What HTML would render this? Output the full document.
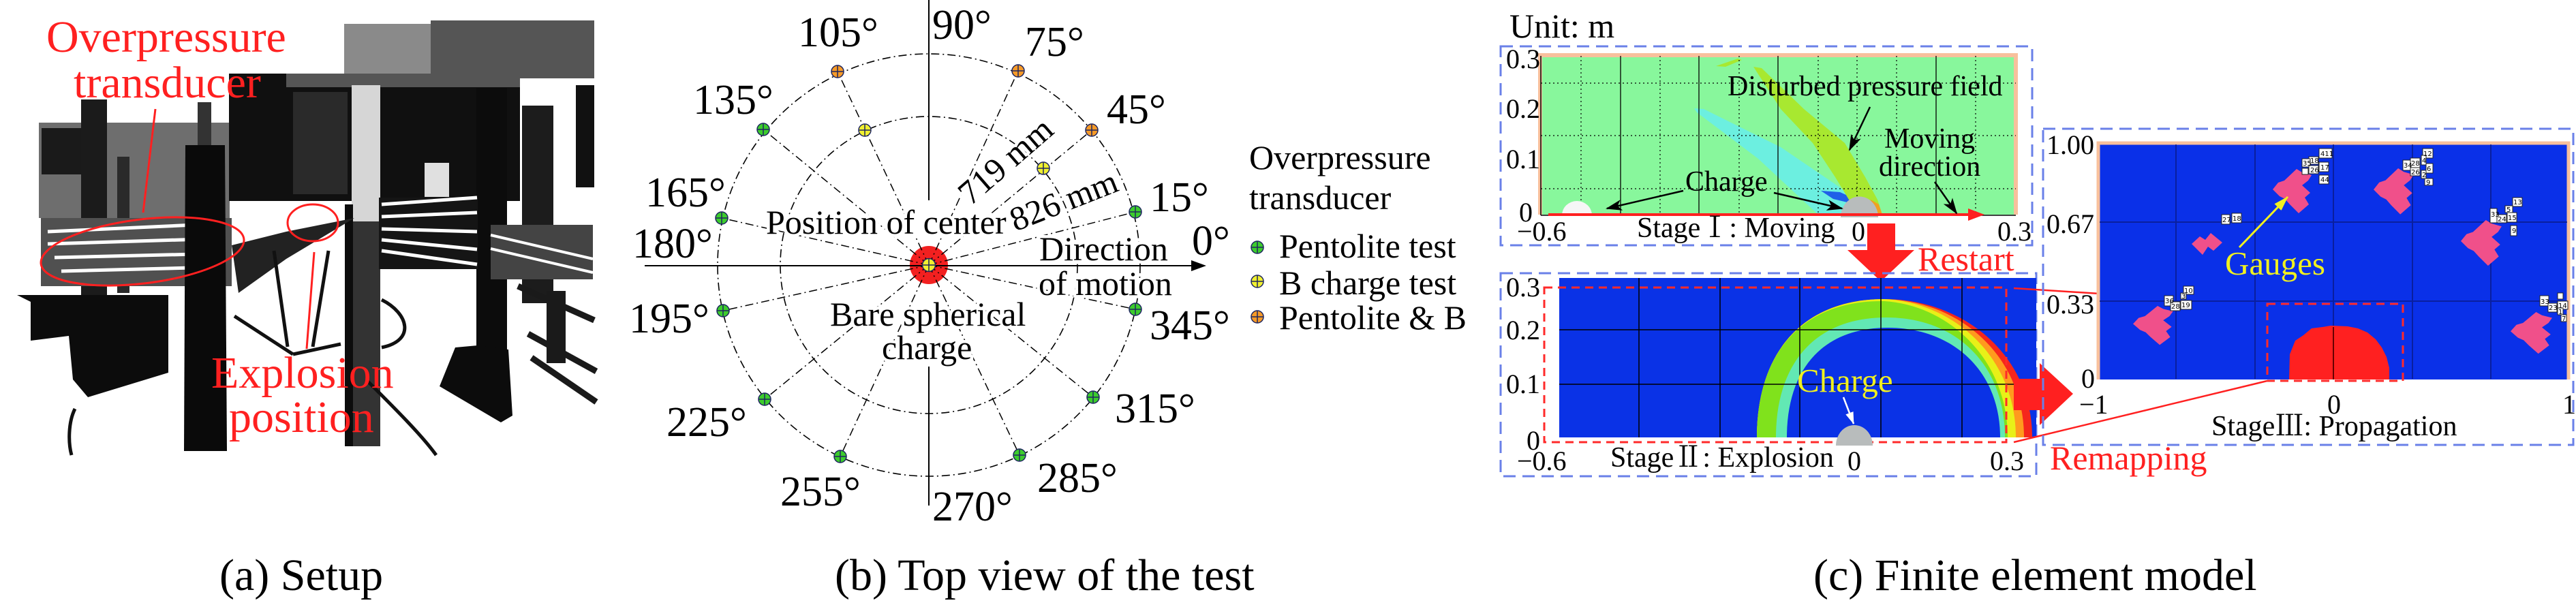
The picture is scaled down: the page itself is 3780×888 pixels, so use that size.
<!DOCTYPE html>
<html><head><meta charset="utf-8"><style>html,body{margin:0;padding:0;background:#fff;width:3780px;height:888px;overflow:hidden}svg{display:block}svg text{font-family:"Liberation Serif","Noto Serif CJK SC",serif}svg text.rn, svg tspan.rn{font-family:"Noto Serif CJK SC",serif}svg text.tiny{font-family:"DejaVu Sans",sans-serif}</style></head>
<body>
<svg width="3780" height="888" viewBox="0 0 3780 888" xmlns="http://www.w3.org/2000/svg" style="font-family:'Liberation Serif',serif">
<defs>
<marker id="ahb" markerUnits="userSpaceOnUse" markerWidth="24" markerHeight="16" refX="22" refY="8" orient="auto"><path d="M0,0 L24,8 L0,16 L6,8 Z" fill="#000"/></marker>
<marker id="ahy" markerUnits="userSpaceOnUse" markerWidth="22" markerHeight="14" refX="21" refY="7" orient="auto"><path d="M0,0 L22,7 L0,14 Z" fill="#f0f020"/></marker>
<marker id="ahw" markerUnits="userSpaceOnUse" markerWidth="18" markerHeight="12" refX="17" refY="6" orient="auto"><path d="M0,0 L18,6 L0,12 Z" fill="#fff"/></marker>
<g id="mk"><line x1="-9" y1="0" x2="9" y2="0" stroke="#1f2660" stroke-width="1.5"/><line x1="0" y1="-9" x2="0" y2="9" stroke="#1f2660" stroke-width="1.5"/></g>
<path id="blob" d="M0,30 L8,20 L17,17 L35,0 L43,5 L57,9 L52,17 L43,24 L55,35 L47,42 L53,52 L38,65 L25,52 L18,44 L10,40 Z"/>
</defs>

<!-- ================= PANEL A: photo approximation ================= -->
<g>
<rect x="505" y="35" width="127" height="75" fill="#8a8a8a"/>
<rect x="632" y="30" width="240" height="85" fill="#555"/>
<rect x="57" y="180" width="280" height="140" fill="#6e6e6e"/>
<rect x="61" y="188" width="63" height="68" fill="#1a1a1a"/>
<rect x="336" y="108" width="427" height="187" fill="#101010"/>
<rect x="420" y="108" width="343" height="20" fill="#555"/>
<rect x="430" y="135" width="80" height="150" fill="#2a2a2a"/>
<rect x="516" y="125" width="42" height="200" fill="#d6d6d6"/>
<rect x="516" y="325" width="42" height="330" fill="#333"/>
<rect x="506" y="300" width="12" height="355" fill="#0c0c0c"/>
<rect x="623" y="239" width="36" height="50" fill="#e0e0e0"/>
<rect x="699" y="129" width="45" height="400" fill="#0c0c0c"/>
<polygon points="645,567 668,510 701,507 746,513 752,610 735,620" fill="#0c0c0c"/>
<rect x="766" y="155" width="46" height="290" fill="#1c1c1c"/>
<rect x="845" y="125" width="27" height="150" fill="#111"/>
<rect x="556" y="290" width="145" height="105" fill="#151515"/>
<g stroke="#fff" stroke-width="5">
<line x1="560" y1="300" x2="700" y2="290"/><line x1="560" y1="318" x2="700" y2="312"/><line x1="560" y1="336" x2="700" y2="340"/><line x1="560" y1="352" x2="700" y2="366"/><line x1="560" y1="368" x2="700" y2="388"/>
</g>
<rect x="720" y="330" width="150" height="80" fill="#444"/>
<g stroke="#fff" stroke-width="4"><line x1="720" y1="345" x2="870" y2="380"/><line x1="720" y1="365" x2="870" y2="400"/></g>
<rect x="119" y="146" width="38" height="295" fill="#1b1b1b"/>
<rect x="172" y="230" width="18" height="200" fill="#2a2a2a"/>
<rect x="290" y="150" width="20" height="150" fill="#333"/>
<rect x="60" y="320" width="280" height="100" fill="#505050"/>
<g stroke="#fff" stroke-width="5">
<line x1="70" y1="340" x2="330" y2="328"/><line x1="70" y1="358" x2="330" y2="350"/><line x1="80" y1="378" x2="330" y2="372"/><line x1="90" y1="398" x2="320" y2="392"/>
</g>
<polygon points="272,213 330,213 333,662 270,662" fill="#0a0a0a"/>
<polygon points="25,433 247,433 247,547 129,583 107,557 101,493 45,500 45,443" fill="#0c0c0c"/>
<polygon points="340,360 420,340 520,320 420,380 350,430" fill="#222"/>
<g stroke="#111" stroke-width="5" fill="none">
<line x1="402" y1="368" x2="422" y2="509"/><line x1="482" y1="368" x2="459" y2="509"/><line x1="344" y1="464" x2="430" y2="520"/><line x1="430" y1="520" x2="500" y2="505"/>
<path d="M560,440 C600,460 610,500 560,510"/><path d="M540,560 C580,600 620,640 640,668"/><path d="M110,600 C100,620 100,650 105,668"/>
</g>
<g stroke="#1a1a1a" stroke-width="9">
<line x1="775" y1="490" x2="875" y2="545"/><line x1="780" y1="525" x2="875" y2="590"/><line x1="760" y1="420" x2="872" y2="470"/>
</g>
<rect x="802" y="427" width="28" height="106" fill="#1a1a1a"/>
</g>
<!-- red annotations -->
<g fill="none" stroke="#ff2020" stroke-width="3">
<ellipse cx="209" cy="369" rx="150" ry="47" transform="rotate(-7 209 369)"/>
<ellipse cx="459" cy="327" rx="37" ry="27"/>
<line x1="228" y1="160" x2="210" y2="312"/>
<line x1="450" y1="512" x2="461" y2="370"/>
</g>
<g font-size="66" fill="#ff2020">
<text x="68" y="76">Overpressure</text>
<text x="108" y="143">transducer</text>
<text x="310" y="569">Explosion</text>
<text x="336" y="634">position</text>
</g>
<text x="322" y="866" font-size="66">(a) Setup</text>

<!-- ================= PANEL B: polar plot ================= -->
<g fill="none" stroke="#000" stroke-width="1.6" stroke-dasharray="12 5 2 5">
<circle cx="1363" cy="389" r="310"/>
<circle cx="1363" cy="389" r="218"/>
</g>
<circle cx="1363" cy="389" r="28" fill="#f22020"/>
<g stroke="#000" stroke-width="1.5" stroke-dasharray="12 5 2 5">
<line x1="1363" y1="389" x2="1666" y2="311"/>
<line x1="1363" y1="389" x2="1602" y2="191"/>
<line x1="1363" y1="389" x2="1494" y2="104"/>
<line x1="1363" y1="389" x2="1229" y2="105"/>
<line x1="1363" y1="389" x2="1120" y2="190"/>
<line x1="1363" y1="389" x2="1059" y2="320"/>
<line x1="1363" y1="389" x2="1061" y2="456"/>
<line x1="1363" y1="389" x2="1122" y2="586"/>
<line x1="1363" y1="389" x2="1233" y2="670"/>
<line x1="1363" y1="389" x2="1496" y2="668"/>
<line x1="1363" y1="389" x2="1604" y2="583"/>
<line x1="1363" y1="389" x2="1666" y2="454"/>
</g>
<g stroke="#000" stroke-width="2">
<line x1="1363" y1="0" x2="1363" y2="294"/>
<line x1="1363" y1="538" x2="1363" y2="742"/>
<line x1="946" y1="390" x2="1752" y2="390"/>
</g>
<path d="M1770,390 L1748,382 L1748,398 Z" fill="#000"/>
<g stroke="#1f2660" stroke-width="1.5">
<circle cx="1666" cy="311" r="9" fill="#3ccc2c"/>
<circle cx="1602" cy="191" r="9" fill="#f59a28"/>
<circle cx="1494" cy="104" r="9" fill="#f59a28"/>
<circle cx="1229" cy="105" r="9" fill="#f59a28"/>
<circle cx="1120" cy="190" r="9" fill="#3ccc2c"/>
<circle cx="1059" cy="320" r="9" fill="#3ccc2c"/>
<circle cx="1061" cy="456" r="9" fill="#3ccc2c"/>
<circle cx="1122" cy="586" r="9" fill="#3ccc2c"/>
<circle cx="1233" cy="670" r="9" fill="#3ccc2c"/>
<circle cx="1496" cy="668" r="9" fill="#3ccc2c"/>
<circle cx="1604" cy="583" r="9" fill="#3ccc2c"/>
<circle cx="1666" cy="454" r="9" fill="#3ccc2c"/>
<circle cx="1269" cy="191" r="9" fill="#f0f030"/>
<circle cx="1531" cy="247" r="9" fill="#f0f030"/>
<circle cx="1363" cy="389" r="9.5" fill="#f0f030"/>
<circle cx="1845" cy="363" r="9" fill="#3ccc2c"/>
<circle cx="1845" cy="413" r="9" fill="#f0f030"/>
<circle cx="1845" cy="465" r="9" fill="#f59a28"/>
</g>
<use href="#mk" x="1666" y="311"/><use href="#mk" x="1602" y="191"/><use href="#mk" x="1494" y="104"/><use href="#mk" x="1229" y="105"/><use href="#mk" x="1120" y="190"/><use href="#mk" x="1059" y="320"/><use href="#mk" x="1061" y="456"/><use href="#mk" x="1122" y="586"/><use href="#mk" x="1233" y="670"/><use href="#mk" x="1496" y="668"/><use href="#mk" x="1604" y="583"/><use href="#mk" x="1666" y="454"/><use href="#mk" x="1269" y="191"/><use href="#mk" x="1531" y="247"/><use href="#mk" x="1363" y="389"/><use href="#mk" x="1845" y="363"/><use href="#mk" x="1845" y="413"/><use href="#mk" x="1845" y="465"/>
<g font-size="62" style="paint-order:stroke;stroke:#fff;stroke-width:8px;stroke-linejoin:round">
<text x="1171" y="68">105°</text>
<text x="1368" y="57">90°</text>
<text x="1504" y="82">75°</text>
<text x="1017" y="167">135°</text>
<text x="1624" y="181">45°</text>
<text x="947" y="303">165°</text>
<text x="1687" y="310">15°</text>
<text x="928" y="378">180°</text>
<text x="1749" y="374">0°</text>
<text x="923" y="488">195°</text>
<text x="1687" y="498">345°</text>
<text x="978" y="640">225°</text>
<text x="1636" y="620">315°</text>
<text x="1145" y="742">255°</text>
<text x="1522" y="722">285°</text>
<text x="1368" y="764">270°</text>
</g>
<g font-size="50" style="paint-order:stroke;stroke:#fff;stroke-width:9px;stroke-linejoin:round">
<text x="1124" y="343">Position of center</text>
<text x="1218" y="478">Bare spherical</text>
<text x="1294" y="527">charge</text>
<text x="1525" y="382">Direction</text>
<text x="1524" y="433">of motion</text>
<text x="1424" y="303" transform="rotate(-41 1424 303)">719 mm</text>
<text x="1490" y="340" transform="rotate(-21.5 1490 340)">826 mm</text>
</g>
<g font-size="50">
<text x="1833" y="248">Overpressure</text>
<text x="1833" y="307">transducer</text>
<text x="1877" y="378">Pentolite test</text>
<text x="1877" y="432">B charge test</text>
<text x="1877" y="483">Pentolite &amp; B</text>
</g>
<text x="1225" y="866" font-size="66">(b) Top view of the test</text>

<!-- ================= PANEL C ================= -->
<text x="2215" y="55" font-size="50">Unit: m</text>
<!-- Stage I -->
<rect x="2202" y="68" width="780" height="292" fill="none" stroke="#6a80e8" stroke-width="3" stroke-dasharray="18 10"/>
<rect x="2261" y="82" width="697" height="233" fill="#88f79c"/>
<path d="M2260,315 L2260,81 L2958,81 L2958,315" fill="none" stroke="#f8c09c" stroke-width="6"/>
<polygon points="2518,97 2550,86 2556,88 2532,98" fill="#a8e830"/>
<polygon points="2486,159 2500,160 2613,216 2697,273 2725,296 2720,315 2668,315 2580,233 2490,165" fill="#6cefe0"/>
<polygon points="2672,280 2700,282 2722,292 2715,298 2690,292" fill="#2060e8"/>
<polygon points="2573,98 2585,100 2647,160 2707,210 2737,260 2755,293 2762,315 2745,315 2713,293 2693,260 2660,210 2613,160" fill="#a8e830"/>
<polygon points="2745,293 2757,300 2762,315 2750,315" fill="#f0a020"/>
<g stroke="#000" stroke-width="1.3">
<line x1="2378" y1="82" x2="2378" y2="315"/><line x1="2493" y1="82" x2="2493" y2="315"/><line x1="2609" y1="82" x2="2609" y2="315"/><line x1="2841" y1="82" x2="2841" y2="315"/>
</g>
<g stroke="#000" stroke-width="1.2" stroke-dasharray="2 4">
<line x1="2320" y1="82" x2="2320" y2="315"/><line x1="2436" y1="82" x2="2436" y2="315"/><line x1="2552" y1="82" x2="2552" y2="315"/><line x1="2668" y1="82" x2="2668" y2="315"/><line x1="2725" y1="82" x2="2725" y2="315"/><line x1="2783" y1="82" x2="2783" y2="315"/><line x1="2899" y1="82" x2="2899" y2="315"/>
<line x1="2261" y1="122" x2="2958" y2="122"/><line x1="2261" y1="199" x2="2958" y2="199"/><line x1="2261" y1="277" x2="2958" y2="277"/>
</g>
<line x1="2261" y1="82" x2="2261" y2="316" stroke="#000" stroke-width="1.5"/>
<line x1="2261" y1="316" x2="2958" y2="316" stroke="#000" stroke-width="1.5"/>
<path d="M2292,316 A22,21 0 0 1 2336,316 Z" fill="#f6f6f6"/>
<path d="M2701,319 A27,30 0 0 1 2756,319 Z" fill="#b8bcbc"/>
<line x1="2272" y1="315" x2="2890" y2="315" stroke="#ff2020" stroke-width="4"/>
<path d="M2912,315 L2888,306 L2888,324 Z" fill="#ff2020"/>
<g stroke="#000" stroke-width="2.5" fill="none">
<line x1="2744" y1="157" x2="2714" y2="220" marker-end="url(#ahb)"/>
<line x1="2839" y1="267" x2="2871" y2="313" marker-end="url(#ahb)"/>
<line x1="2470" y1="280" x2="2358" y2="306" marker-end="url(#ahb)"/>
<line x1="2603" y1="283" x2="2703" y2="306" marker-end="url(#ahb)"/>
</g>
<g font-size="42">
<text x="2535" y="140">Disturbed pressure field</text>
<text x="2765" y="217">Moving</text>
<text x="2757" y="258">direction</text>
<text x="2473" y="280">Charge</text>
<text x="2402" y="348">Stage<tspan class="rn">Ⅰ</tspan>: Moving</text>
</g>
<g font-size="40">
<text x="2210" y="100">0.3</text><text x="2210" y="173">0.2</text><text x="2210" y="247">0.1</text><text x="2229" y="325">0</text>
<text x="2226" y="353">−0.6</text><text x="2717" y="353">0</text><text x="2931" y="353">0.3</text>
</g>
<rect x="2740" y="328" width="41" height="40" fill="#ff2020"/>
<polygon points="2711,367 2809,367 2760,413" fill="#ff2020"/>
<text x="2814" y="397" font-size="50" fill="#ff2020">Restart</text>

<!-- Stage II -->
<rect x="2202" y="401" width="786" height="298" fill="none" stroke="#6a80e8" stroke-width="3" stroke-dasharray="18 10"/>
<rect x="2288" y="408" width="700" height="234" fill="#0a32e6"/>
<path d="M2578,642 C2578,520 2643,439 2765,439 C2880,439 2982,520 2982,642 Z" fill="#f5261c"/>
<path d="M2578,642 C2578,520 2643,439 2765,439 C2875,441 2970,522 2970,642 Z" fill="#ff9a1e"/>
<path d="M2578,642 C2578,520 2643,439 2765,439 C2868,444 2958,525 2958,642 Z" fill="#e8f018"/>
<path d="M2578,642 C2578,520 2643,440 2765,442 C2860,448 2946,528 2946,642 Z" fill="#80e21c"/>
<path d="M2606,642 C2606,535 2662,466 2768,466 C2870,466 2942,535 2942,642 Z" fill="#62e8b4"/>
<path d="M2622,642 C2622,545 2672,481 2770,481 C2866,481 2935,545 2935,642 Z" fill="#0a32e6"/>
<g stroke="#000" stroke-width="1.5">
<line x1="2405" y1="408" x2="2405" y2="642"/><line x1="2524" y1="408" x2="2524" y2="642"/><line x1="2641" y1="408" x2="2641" y2="642"/><line x1="2760" y1="408" x2="2760" y2="642"/><line x1="2879" y1="408" x2="2879" y2="642"/>
<line x1="2288" y1="484" x2="2988" y2="484"/><line x1="2288" y1="564" x2="2988" y2="564"/>
</g>
<rect x="2266" y="422" width="678" height="227" fill="none" stroke="#ff2a2a" stroke-width="3" stroke-dasharray="12 8"/>
<path d="M2694,654 A27,30 0 0 1 2748,654 Z" fill="#b8bcbc"/>
<line x1="2705" y1="583" x2="2720" y2="622" stroke="#fff" stroke-width="2.5" marker-end="url(#ahw)"/>
<text x="2637" y="575" font-size="49" fill="#f0f020">Charge</text>
<g font-size="40">
<text x="2210" y="435">0.3</text><text x="2210" y="498">0.2</text><text x="2210" y="577">0.1</text><text x="2240" y="660">0</text>
<text x="2226" y="690">−0.6</text><text x="2711" y="690">0</text><text x="2920" y="690">0.3</text>
</g>
<text x="2363" y="685" font-size="42">Stage<tspan class="rn">Ⅱ</tspan>: Explosion</text>
<g stroke="#ff2020" stroke-width="2.5">
<line x1="2955" y1="423" x2="3332" y2="447"/>
<line x1="2955" y1="649" x2="3327" y2="559"/>
</g>
<rect x="2955" y="556" width="40" height="46" fill="#ff2020"/>
<polygon points="2993,533 2993,624 3042,578" fill="#ff2020"/>
<text x="3008" y="689" font-size="50" fill="#ff2020">Remapping</text>

<!-- Stage III -->
<rect x="2998" y="189" width="778" height="464" fill="none" stroke="#6a80e8" stroke-width="3" stroke-dasharray="18 10"/>
<rect x="3080" y="211" width="688" height="346" fill="#0a30e8"/>
<path d="M3079,557 L3079,210 L3769,210 L3769,557" fill="none" stroke="#f8c09c" stroke-width="5"/>
<g stroke="#0a1c8c" stroke-width="2" opacity="0.8">
<line x1="3193" y1="212" x2="3193" y2="556"/><line x1="3309" y1="212" x2="3309" y2="556"/><line x1="3424" y1="212" x2="3424" y2="556"/><line x1="3540" y1="212" x2="3540" y2="556"/><line x1="3655" y1="212" x2="3655" y2="556"/>
<line x1="3081" y1="326" x2="3767" y2="326"/><line x1="3081" y1="442" x2="3767" y2="442"/>
</g>
<path d="M3359,557 L3360,520 L3368,500 L3380,492 L3392,482 L3408,480 L3420,478 L3445,479 L3460,482 L3474,488 L3486,498 L3495,510 L3502,524 L3506,540 L3506,557 Z" fill="#ff2020"/>
<line x1="3424" y1="480" x2="3424" y2="557" stroke="#600" stroke-width="2"/>
<rect x="3327" y="446" width="199" height="113" fill="none" stroke="#ff2a2a" stroke-width="3" stroke-dasharray="12 8"/>
<g fill="#f0508a">
<use href="#blob" x="3335" y="248"/>
<use href="#blob" transform="translate(3483,247) scale(1.03,1.04)"/>
<use href="#blob" transform="translate(3611,323) scale(1.05,1.03)"/>
<use href="#blob" transform="translate(3684,458) scale(1.07,0.94)"/>
<use href="#blob" transform="translate(3130,449) scale(1.03,0.88)"/>
<polygon points="3216,358 3228,347 3236,352 3244,342 3261,356 3248,368 3240,362 3232,374"/>
</g>
<g fill="#fff" stroke="#222" stroke-width="1">
<rect x="3403" y="218" width="19" height="14"/><rect x="3388" y="230" width="14" height="11"/><rect x="3378" y="233" width="12" height="12"/><rect x="3388" y="243" width="14" height="12"/><rect x="3403" y="238" width="14" height="14"/><rect x="3403" y="257" width="14" height="13"/><rect x="3378" y="247" width="9" height="9"/>
<rect x="3555" y="218" width="15" height="14"/><rect x="3553" y="228" width="7" height="14"/><rect x="3526" y="235" width="11" height="15"/><rect x="3537" y="232" width="14" height="14"/><rect x="3537" y="246" width="14" height="12"/><rect x="3560" y="240" width="10" height="14"/><rect x="3553" y="250" width="7" height="12"/><rect x="3558" y="262" width="12" height="10"/>
<rect x="3687" y="290" width="14" height="13"/><rect x="3676" y="302" width="11" height="10"/><rect x="3679" y="312" width="14" height="14"/><rect x="3664" y="315" width="14" height="12"/><rect x="3684" y="331" width="9" height="15"/><rect x="3654" y="306" width="10" height="21"/>
<rect x="3753" y="430" width="8" height="9"/><rect x="3727" y="434" width="13" height="15"/><rect x="3739" y="445" width="13" height="13"/><rect x="3753" y="442" width="15" height="12"/><rect x="3753" y="452" width="8" height="10"/><rect x="3758" y="462" width="8" height="10"/>
<rect x="3204" y="420" width="15" height="12"/><rect x="3200" y="430" width="8" height="9"/><rect x="3176" y="434" width="13" height="15"/><rect x="3185" y="443" width="14" height="13"/><rect x="3200" y="441" width="16" height="13"/>
<rect x="3260" y="315" width="12" height="14"/><rect x="3275" y="313" width="14" height="14"/>
</g>
<g font-size="10" fill="#000">
<text class="tiny" x="3405" y="229">411</text><text class="tiny" x="3390" y="239">18</text><text class="tiny" x="3379" y="243">35</text><text class="tiny" x="3390" y="253">26</text><text class="tiny" x="3405" y="249">17</text><text class="tiny" x="3405" y="267">44</text>
<text class="tiny" x="3556" y="229">12</text><text class="tiny" x="3554" y="239">4</text><text class="tiny" x="3527" y="246">34</text><text class="tiny" x="3538" y="243">28</text><text class="tiny" x="3538" y="256">26</text><text class="tiny" x="3561" y="251">6</text><text class="tiny" x="3554" y="260">2</text><text class="tiny" x="3560" y="271">9</text>
<text class="tiny" x="3688" y="300">13</text><text class="tiny" x="3678" y="311">5</text><text class="tiny" x="3680" y="323">15</text><text class="tiny" x="3665" y="325">24</text><text class="tiny" x="3686" y="342">9</text><text class="tiny" x="3655" y="318">33</text>
<text class="tiny" x="3728" y="446">33</text><text class="tiny" x="3740" y="455">23</text><text class="tiny" x="3754" y="452">14</text><text class="tiny" x="3754" y="461">1</text><text class="tiny" x="3759" y="471">7</text>
<text class="tiny" x="3205" y="430">10</text><text class="tiny" x="3201" y="438">3</text><text class="tiny" x="3177" y="445">36</text><text class="tiny" x="3186" y="453">28</text><text class="tiny" x="3201" y="451">19</text>
<text class="tiny" x="3261" y="326">27</text><text class="tiny" x="3276" y="324">18</text>
</g>
<line x1="3286" y1="363" x2="3357" y2="289" stroke="#f0f020" stroke-width="3" marker-end="url(#ahy)"/>
<text x="3265" y="403" font-size="49" fill="#f0f020">Gauges</text>
<g font-size="40">
<text x="3003" y="226">1.00</text><text x="3003" y="342">0.67</text><text x="3003" y="460">0.33</text><text x="3054" y="569">0</text>
<text x="3051" y="607">−1</text><text x="3415" y="607">0</text><text x="3760" y="607">1</text>
</g>
<text x="3245" y="639" font-size="42">Stage<tspan class="rn">Ⅲ</tspan>: Propagation</text>

<text x="2661" y="866" font-size="66">(c) Finite element model</text>
</svg>
</body></html>
